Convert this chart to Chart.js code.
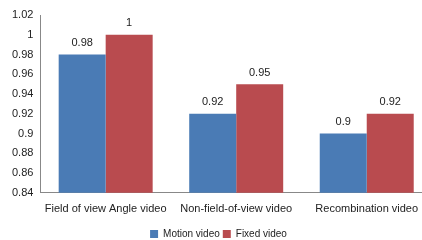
<!DOCTYPE html>
<html>
<head>
<meta charset="utf-8">
<script src="https://cdn.jsdelivr.net/npm/chart.js@4/dist/chart.umd.min.js"></script>
<style>
  html, body { margin: 0; padding: 0; background: #fff; overflow: hidden; }
  #wrap { width: 432px; height: 249px; }
</style>
</head>
<body>
<div id="wrap"><canvas id="myChart"></canvas></div>
<script>
"use strict";

// data
const categories = ["Field of view Angle video", "Non-field-of-view video", "Recombination video"];
const motionVideo = [0.98, 0.92, 0.9];
const fixedVideo = [1, 0.95, 0.92];
const seriesNames = ["Motion video", "Fixed video"];

// value labels on top of bars
const valueLabels = {
  id: "valueLabels",
  afterDatasetsDraw(chart) {
    const ctx = chart.ctx;
    ctx.save();
    ctx.font = "11px 'Liberation Sans', Arial, sans-serif";
    ctx.fillStyle = "#222";
    ctx.textAlign = "center";
    ctx.textBaseline = "bottom";
    chart.data.datasets.forEach((ds, i) => {
      chart.getDatasetMeta(i).data.forEach((bar, j) => {
        ctx.fillText(String(ds.data[j]), bar.x, bar.y - 6);
      });
    });
    ctx.restore();
  }
};

const ctx = document.getElementById("myChart").getContext("2d");
const myChart = new Chart(ctx, {
  type: "bar",
  data: {
    labels: categories,
    datasets: [
      {
        label: seriesNames[0],
        data: motionVideo,
        backgroundColor: "#4a7bb5",
        borderWidth: 0,
        categoryPercentage: 0.72,
        barPercentage: 1
      },
      {
        label: seriesNames[1],
        data: fixedVideo,
        backgroundColor: "#b94b4f",
        borderWidth: 0,
        categoryPercentage: 0.72,
        barPercentage: 1
      }
    ]
  },
  options: {
    responsive: true,
    maintainAspectRatio: false,
    animation: false,
    layout: { padding: { left: 5, right: 0, top: 15, bottom: 0 } },
    plugins: {
      legend: {
        position: "bottom",
        labels: {
          boxWidth: 8,
          boxHeight: 8,
          padding: 3,
          color: "#222",
          font: { size: 10, family: "'Liberation Sans', Arial, sans-serif" }
        }
      },
      tooltip: { enabled: false }
    },
    scales: {
      x: {
        grid: { display: false, drawTicks: false },
        border: { color: "#888" },
        ticks: {
          color: "#222",
          padding: 10,
          maxRotation: 0,
          autoSkip: false,
          font: { size: 11, family: "'Liberation Sans', Arial, sans-serif" }
        }
      },
      y: {
        min: 0.84,
        max: 1.02,
        grid: { display: false, drawTicks: false },
        border: { color: "#888" },
        ticks: {
          stepSize: 0.02,
          color: "#222",
          padding: 7,
          font: { size: 11, family: "'Liberation Sans', Arial, sans-serif" },
          callback: (v) => String(Math.round(v * 100) / 100)
        }
      }
    }
  },
  plugins: [valueLabels]
});
</script>
</body>
</html>
